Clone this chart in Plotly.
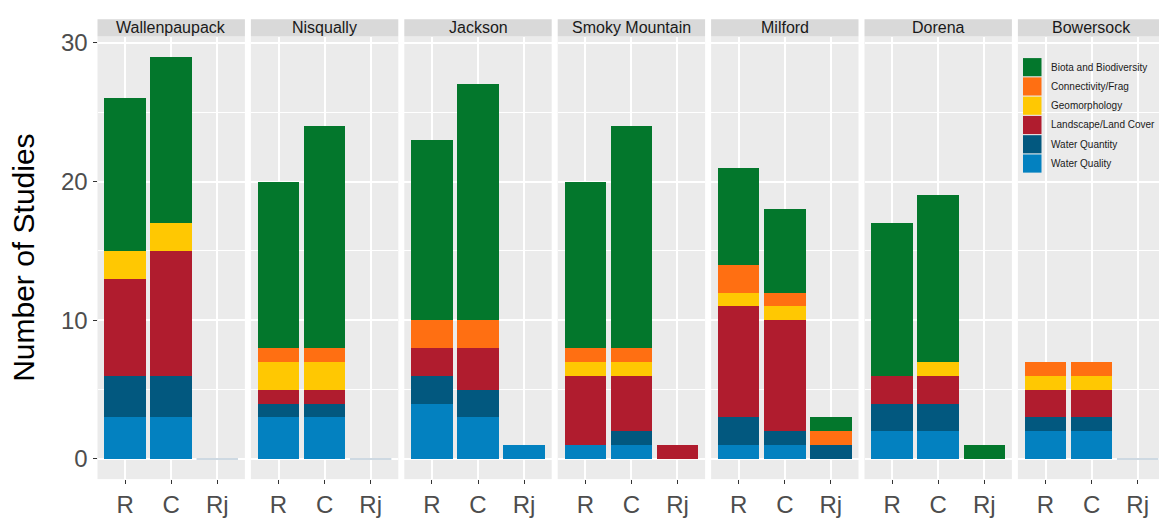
import plotly.graph_objects as go

# Study counts per watershed, split by study type (R, C, Rj) and topic
sites = ["Wallenpaupack", "Nisqually", "Jackson", "Smoky Mountain", "Milford", "Dorena", "Bowersock"]
study_types = ["R", "C", "Rj"]

# values listed site by site, each as [R, C, Rj]
water_quality   = [3, 3, 0,  3, 3, 0,  4, 3, 1,  1, 1, 0,  1, 1, 0,  2, 2, 0,  2, 2, 0]
water_quantity  = [3, 3, 0,  1, 1, 0,  2, 2, 0,  0, 1, 0,  2, 1, 1,  2, 2, 0,  1, 1, 0]
landscape       = [7, 9, 0,  1, 1, 0,  2, 3, 0,  5, 4, 1,  8, 8, 0,  2, 2, 0,  2, 2, 0]
geomorphology   = [2, 2, 0,  2, 2, 0,  0, 0, 0,  1, 1, 0,  1, 1, 0,  0, 1, 0,  1, 1, 0]
connectivity    = [0, 0, 0,  1, 1, 0,  2, 2, 0,  1, 1, 0,  2, 1, 1,  0, 0, 0,  1, 1, 0]
biota           = [11, 12, 0, 12, 16, 0, 13, 17, 0, 12, 16, 0, 7, 6, 1, 11, 12, 1, 0, 0, 0]

# stacking order, bottom to top
topics = [
    ("Water Quality", water_quality, "#0381c0"),
    ("Water Quantity", water_quantity, "#02587f"),
    ("Landscape/Land Cover", landscape, "#b01c2e"),
    ("Geomorphology", geomorphology, "#ffc802"),
    ("Connectivity/Frag", connectivity, "#ff6f12"),
    ("Biota and Biodiversity", biota, "#03772c"),
]
legend_order = ["Biota and Biodiversity", "Connectivity/Frag", "Geomorphology",
                "Landscape/Land Cover", "Water Quantity", "Water Quality"]

W, H = 1159, 518
FONT = "Liberation Sans, Arial, Helvetica, sans-serif"

# panel geometry (pixels)
panel_left0, panel_step, panel_w = 97.5, 153.4, 147.4
panel_top, panel_bottom = 30.3, 483.3
strip_top = 12.5
unit_px = panel_w / 3.2
bar_width = 0.9

def px_x(v):
    return v / W

def px_y(v):
    return 1 - v / H

fig = go.Figure()
layout = dict(
    width=W, height=H,
    margin=dict(l=0, r=0, t=0, b=0),
    paper_bgcolor="white",
    plot_bgcolor="#ebebeb",
    barmode="stack",
    bargap=0.1,
    showlegend=False,
    font=dict(family=FONT),
    shapes=[], annotations=[],
)

xpos = [1, 2, 3]
for i, site in enumerate(sites):
    sfx = "" if i == 0 else str(i + 1)
    left = panel_left0 + i * panel_step
    right = left + panel_w
    right_clip = min(right, W)
    xmax = 0.4 + (right_clip - left) / unit_px

    sl = slice(3 * i, 3 * i + 3)
    for name, vals, color in topics:
        fig.add_trace(go.Bar(
            x=xpos, y=vals[sl], name=name, width=bar_width,
            marker=dict(color=color, line=dict(width=0)),
            xaxis="x" + sfx, yaxis="y" + sfx, hoverinfo="skip",
        ))

    # empty study groups are drawn as a flat outline on the baseline
    totals = [sum(vals[sl][k] for _, vals, _ in topics) for k in range(3)]
    for k, tot in enumerate(totals):
        if tot == 0:
            fig.add_trace(go.Scatter(
                x=[xpos[k] - bar_width / 2, xpos[k] + bar_width / 2], y=[tot, tot],
                mode="lines", line=dict(color="#9db4c6", width=1.2),
                xaxis="x" + sfx, yaxis="y" + sfx, hoverinfo="skip",
            ))

    layout["xaxis" + sfx] = dict(
        domain=[px_x(left), px_x(right_clip)], range=[0.4, xmax],
        tickvals=xpos, ticktext=study_types,
        showgrid=True, gridcolor="white", gridwidth=1.5,
        ticks="outside", ticklen=4, tickwidth=1.2, tickcolor="#333333",
        tickfont=dict(size=24, color="#4d4d4d", family=FONT),
        zeroline=False, showline=False, anchor="y" + sfx, fixedrange=True,
    )
    layout["yaxis" + sfx] = dict(
        domain=[px_y(panel_bottom), px_y(panel_top)], range=[-1.45, 30.45],
        tickvals=[0, 10, 20, 30],
        showgrid=True, gridcolor="white", gridwidth=1.5,
        minor=dict(tickvals=[5, 15, 25], showgrid=True, gridcolor="white",
                   gridwidth=0.8, ticks=""),
        showticklabels=(i == 0),
        ticks="outside" if i == 0 else "", ticklen=4, tickwidth=1.2, tickcolor="#333333",
        tickfont=dict(size=24, color="#4d4d4d", family=FONT),
        zeroline=False, showline=False, anchor="x" + sfx, fixedrange=True,
    )

    # facet strip
    layout["shapes"].append(dict(
        type="rect", xref="paper", yref="paper",
        x0=px_x(left), x1=px_x(right_clip), y0=px_y(panel_top), y1=px_y(strip_top),
        fillcolor="#d9d9d9", line=dict(width=0), layer="below",
    ))
    layout["annotations"].append(dict(
        text=site, xref="paper", yref="paper",
        x=px_x((left + right) / 2), y=px_y((strip_top + panel_top) / 2),
        xanchor="center", yanchor="middle", showarrow=False,
        font=dict(size=16, color="#1a1a1a", family=FONT),
    ))

# y axis title
layout["annotations"].append(dict(
    text="Number of Studies", xref="paper", yref="paper",
    x=px_x(24), y=px_y((panel_top + panel_bottom) / 2),
    xanchor="center", yanchor="middle", textangle=-90, showarrow=False,
    font=dict(size=30, color="#000000", family=FONT),
))

# legend drawn as key boxes inside the last panel
colors = {name: color for name, _, color in topics}
key_x0, key_x1 = 1023, 1041.5
key_top, key_pitch, key_h = 52.3, 19.73, 18.6
for k, name in enumerate(legend_order):
    y0 = key_top + k * key_pitch
    layout["shapes"].append(dict(
        type="rect", xref="paper", yref="paper",
        x0=px_x(key_x0), x1=px_x(key_x1), y0=px_y(y0 + key_h), y1=px_y(y0),
        fillcolor=colors[name], line=dict(width=0),
    ))
    layout["annotations"].append(dict(
        text=name, xref="paper", yref="paper",
        x=px_x(1049), y=px_y(y0 + key_h / 2),
        xanchor="left", yanchor="middle", showarrow=False,
        font=dict(size=10, color="#1a1a1a", family=FONT),
    ))

fig.update_layout(**layout)
fig.write_html("out.html", config={"displayModeBar": False})
